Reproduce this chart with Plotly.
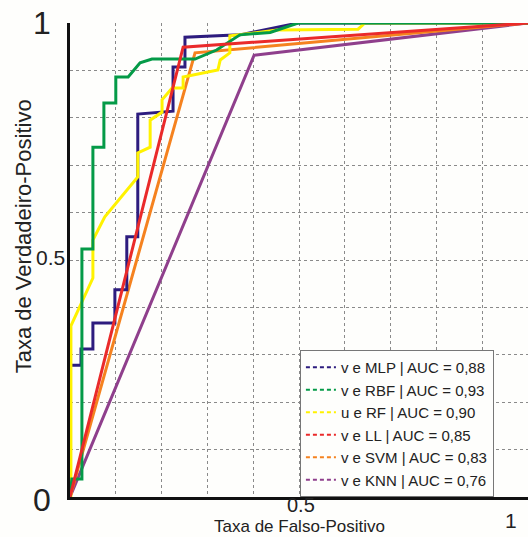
import plotly.graph_objects as go

# ---- data ----
mlp_x = [0, 0, 0.024, 0.024, 0.050, 0.050, 0.098, 0.098, 0.124, 0.124, 0.148, 0.148, 0.225, 0.225, 0.251, 0.251, 0.371, 0.498, 1.0]
mlp_y = [0, 0.278, 0.278, 0.312, 0.312, 0.367, 0.367, 0.437, 0.437, 0.549, 0.549, 0.808, 0.814, 0.907, 0.907, 0.970, 0.975, 1.0, 1.0]

rbf_x = [0, 0.004, 0.026, 0.026, 0.050, 0.050, 0.074, 0.074, 0.100, 0.100, 0.127, 0.153, 0.179, 0.273, 0.320, 0.355, 0.371, 0.437, 0.498, 1.0]
rbf_y = [0, 0.038, 0.038, 0.523, 0.523, 0.738, 0.738, 0.831, 0.831, 0.886, 0.886, 0.916, 0.924, 0.924, 0.943, 0.964, 0.975, 0.980, 1.0, 1.0]

rf_x = [0, 0.002, 0.002, 0.050, 0.050, 0.076, 0.148, 0.148, 0.175, 0.175, 0.201, 0.201, 0.223, 0.247, 0.247, 0.323, 0.328, 0.349, 0.349, 0.452, 0.629, 0.644, 1.0]
rf_y = [0, 0.0, 0.361, 0.462, 0.542, 0.591, 0.675, 0.726, 0.738, 0.795, 0.812, 0.838, 0.863, 0.863, 0.886, 0.901, 0.922, 0.937, 0.973, 0.985, 0.987, 1.0, 1.0]

ll_x = [0, 0.247, 1.0]
ll_y = [0, 0.949, 1.0]

svm_x = [0, 0.273, 1.0]
svm_y = [0, 0.937, 1.0]

knn_x = [0, 0.402, 1.0]
knn_y = [0, 0.932, 1.0]

series = [
    ("v e MLP | AUC = 0,88", mlp_x, mlp_y, "#2d1c7e"),
    ("v e RBF | AUC = 0,93", rbf_x, rbf_y, "#049a47"),
    ("u e RF | AUC = 0,90", rf_x, rf_y, "#fff200"),
    ("v e LL | AUC = 0,85", ll_x, ll_y, "#ea2a2a"),
    ("v e SVM | AUC = 0,83", svm_x, svm_y, "#f5821f"),
    ("v e KNN | AUC = 0,76", knn_x, knn_y, "#8f3f8c"),
]
draw_order = [5, 4, 0, 2, 1, 3]  # back to front

x_tick_vals = [0.5, 1]
x_tick_text = ["0.5", "1"]
y_tick_vals = [0, 0.5, 1]
y_tick_text = ["0", "0.5", "1"]

FONT = "Arial, Liberation Sans, sans-serif"

fig = go.Figure()
for i in draw_order:
    name, xs, ys, col = series[i]
    fig.add_trace(go.Scatter(x=xs, y=ys, mode="lines", line=dict(color=col, width=3),
                             showlegend=False, cliponaxis=False, hoverinfo="skip"))
# legend entries (dashed samples as in the original)
for k, (name, xs, ys, col) in enumerate(series):
    fig.add_trace(go.Scatter(x=[None], y=[None], mode="lines", name=name,
                             line=dict(color=col, width=2, dash="4px,3px"),
                             legendgroup=str(k)))

fig.update_layout(
    width=528, height=537,
    margin=dict(l=70, r=0, t=23, b=40),
    paper_bgcolor="#fefefc", plot_bgcolor="#fefefc",
    font=dict(family=FONT, color="#222"),
    xaxis=dict(range=[0, 1], dtick=0.1, tick0=0, showticklabels=False, ticks="",
               showgrid=True, gridcolor="#8a8a8a", griddash="dot", gridwidth=1,
               showline=True, linecolor="#111", linewidth=3, zeroline=False),
    yaxis=dict(range=[0, 1], dtick=0.1, tick0=0, showticklabels=False, ticks="",
               showgrid=True, gridcolor="#8a8a8a", griddash="dot", gridwidth=1,
               showline=True, linecolor="#111", linewidth=3, zeroline=False),
    legend=dict(x=0.502, y=0.0, xanchor="left", yanchor="bottom",
                bgcolor="#fefefc", bordercolor="#777", borderwidth=1,
                font=dict(size=15, color="#222", family=FONT),
                tracegroupgap=5, itemwidth=30, traceorder="normal"),
    showlegend=True,
)

# tick labels
y_sizes = [32, 21, 32]
y_pos_px = [-17, -3, -17]
for v, t, s, dx in zip(y_tick_vals, y_tick_text, y_sizes, y_pos_px):
    fig.add_annotation(x=0, y=v, xref="x", yref="y", text=t, showarrow=False,
                       xanchor="right", yanchor="middle", xshift=dx,
                       yshift=(3 if v == 0.5 else (-3 if v == 0 else 0)),
                       font=dict(size=s, color="#222", family=FONT))
x_sizes = [20, 21]
x_shift = [2, -17]
x_yshift = [-8, -23]
for v, t, s, dx, dy in zip(x_tick_vals, x_tick_text, x_sizes, x_shift, x_yshift):
    fig.add_annotation(x=v, y=0, xref="x", yref="y", text=t, showarrow=False,
                       xanchor="center", yanchor="middle", xshift=dx, yshift=dy,
                       borderpad=0, font=dict(size=s, color="#222", family=FONT))

# axis titles
fig.add_annotation(x=0.5, y=0, xref="x", yref="paper", text="Taxa de Falso-Positivo",
                   showarrow=False, xanchor="center", yanchor="bottom", yshift=-40,
                   borderpad=0, font=dict(size=17, color="#222", family=FONT))
fig.add_annotation(x=0, y=0.55, xref="x", yref="y", text="Taxa de Verdadeiro-Positivo",
                   showarrow=False, textangle=-90, xanchor="center", yanchor="middle",
                   xshift=-47, font=dict(size=22, color="#222", family=FONT))

fig.write_html("out.html")
